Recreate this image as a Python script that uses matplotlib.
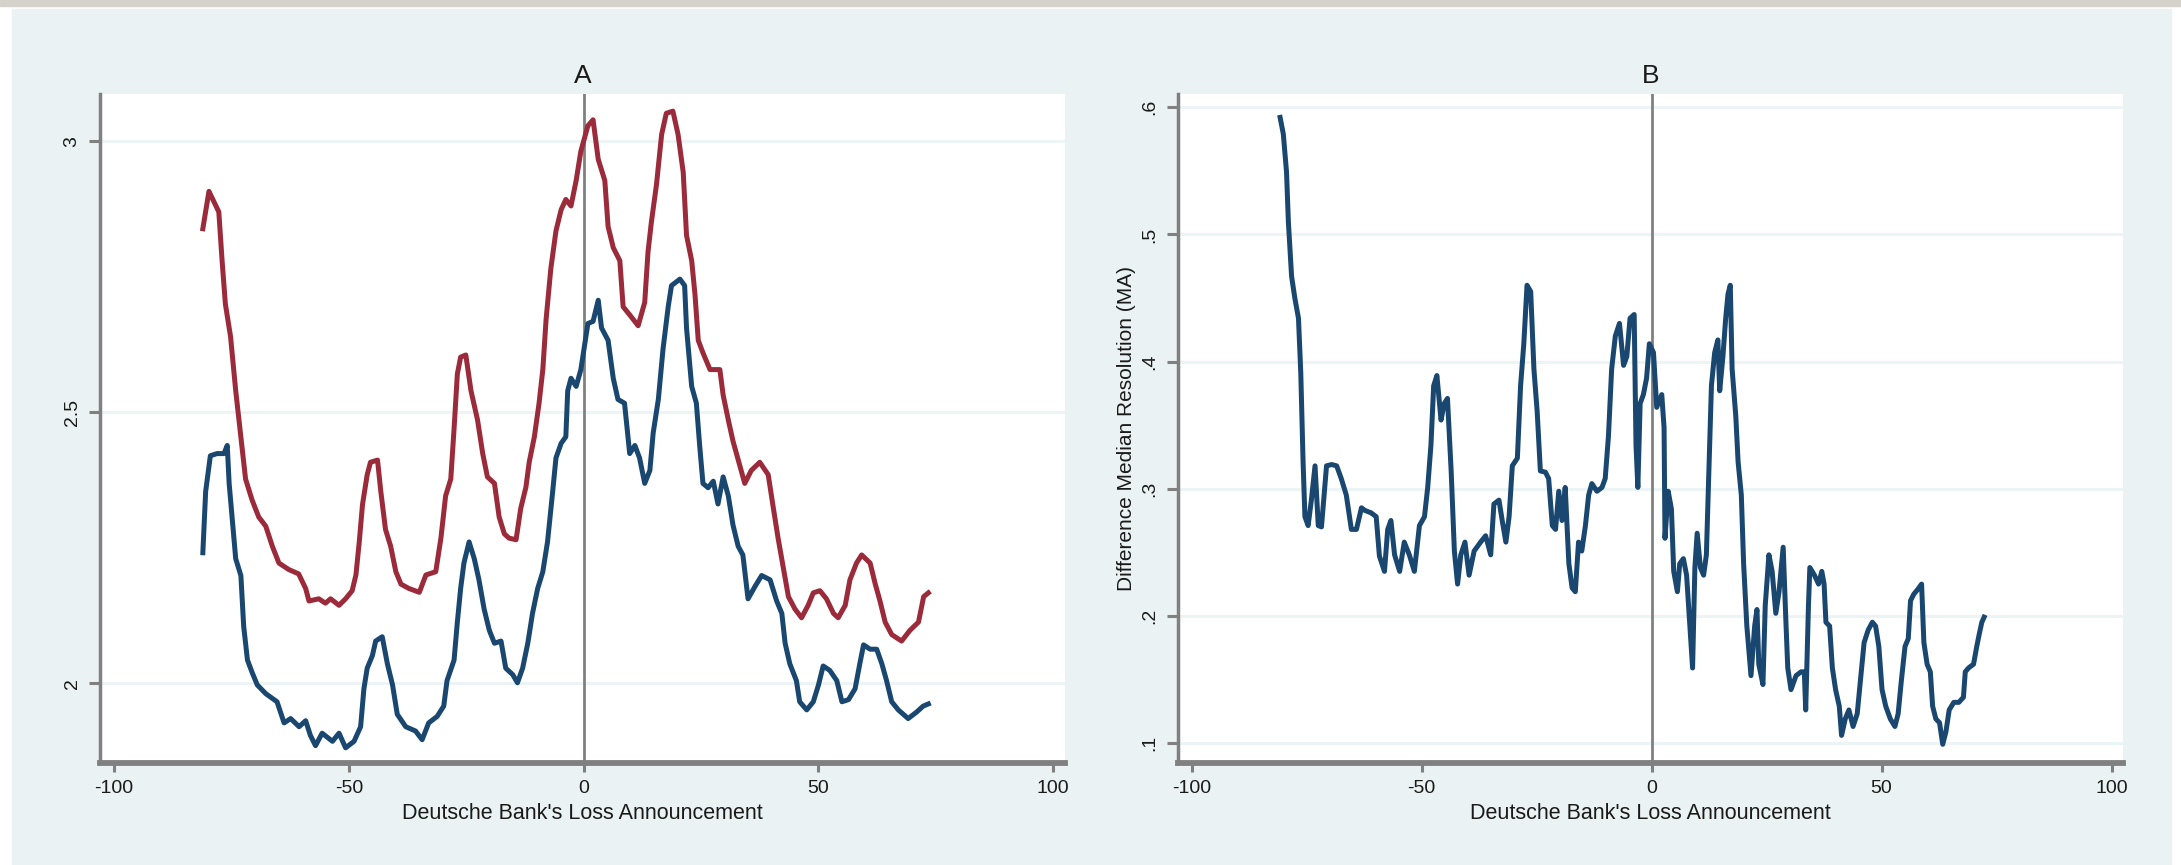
import matplotlib
matplotlib.use('Agg')
import matplotlib.pyplot as plt
from matplotlib.patches import Rectangle
import numpy as np

plt.rcParams['font.family'] = ['Liberation Sans', 'DejaVu Sans']
plt.rcParams['axes.unicode_minus'] = False

# panel A: two moving-average series around the announcement day
red_x = [-81.1, -79.8, -77.7, -77.0, -76.3, -75.2, -74.1, -73.0, -72.0, -70.6,
         -69.2, -67.7, -66.3, -64.9, -62.8, -60.7, -59.2, -58.5, -56.4, -55.0,
         -53.9, -52.1, -50.7, -49.3, -48.5, -47.8, -47.1, -46.1, -45.4, -43.9,
         -43.2, -42.2, -41.1, -40.0, -38.9, -37.2, -35.0, -33.6, -31.5, -30.4,
         -29.4, -28.3, -27.6, -26.9, -26.2, -25.1, -24.0, -22.6, -21.5, -20.5,
         -19.0, -18.0, -16.9, -15.9, -14.4, -13.4, -12.3, -11.6, -10.5, -9.5,
         -8.7, -8.0, -7.0, -5.9, -4.8, -3.8, -2.7, -1.6, -0.6, 0.9,
         2.0, 3.1, 4.5, 5.2, 6.3, 7.7, 8.4, 9.8, 11.6, 13.0,
         13.7, 14.4, 15.5, 16.6, 17.6, 19.0, 20.1, 21.2, 21.9, 23.0,
         23.7, 24.4, 25.4, 26.9, 29.0, 29.7, 30.8, 31.8, 33.3, 34.3,
         35.7, 37.5, 39.3, 40.4, 41.4, 42.5, 43.6, 45.0, 46.4, 47.8,
         48.9, 50.3, 51.7, 53.2, 54.2, 55.7, 56.7, 58.1, 59.2, 61.0,
         62.1, 63.1, 64.2, 65.6, 67.7, 69.5, 71.3, 72.4, 73.4]
red_y = [2.839, 2.908, 2.870, 2.780, 2.700, 2.640, 2.540, 2.455, 2.377, 2.338,
         2.307, 2.290, 2.253, 2.222, 2.210, 2.202, 2.175, 2.152, 2.156, 2.148,
         2.156, 2.144, 2.156, 2.171, 2.200, 2.260, 2.330, 2.385, 2.408, 2.412,
         2.354, 2.284, 2.253, 2.206, 2.183, 2.175, 2.168, 2.200, 2.206, 2.268,
         2.346, 2.377, 2.470, 2.571, 2.602, 2.606, 2.540, 2.486, 2.424, 2.381,
         2.369, 2.307, 2.276, 2.268, 2.265, 2.323, 2.362, 2.408, 2.455, 2.517,
         2.579, 2.672, 2.765, 2.835, 2.874, 2.893, 2.881, 2.928, 2.982, 3.029,
         3.040, 2.967, 2.928, 2.843, 2.804, 2.780, 2.695, 2.680, 2.660, 2.703,
         2.796, 2.850, 2.920, 3.013, 3.052, 3.056, 3.013, 2.943, 2.827, 2.780,
         2.718, 2.633, 2.610, 2.579, 2.579, 2.532, 2.486, 2.447, 2.400, 2.369,
         2.393, 2.408, 2.385, 2.323, 2.268, 2.214, 2.160, 2.137, 2.121, 2.144,
         2.167, 2.171, 2.156, 2.129, 2.121, 2.144, 2.191, 2.222, 2.237, 2.222,
         2.183, 2.152, 2.113, 2.090, 2.078, 2.098, 2.113, 2.160, 2.167]

blue_x = [-81.1, -80.5, -79.5, -78.1, -76.6, -75.9, -75.5, -74.8, -74.1, -73.0,
          -72.4, -71.6, -70.6, -69.5, -67.7, -65.3, -63.8, -62.4, -60.6, -59.2,
          -58.2, -57.1, -55.7, -53.5, -52.1, -50.7, -48.9, -47.5, -46.8, -46.1,
          -45.0, -44.3, -42.9, -41.8, -40.7, -39.7, -37.9, -35.8, -34.4, -33.0,
          -31.2, -29.8, -29.1, -27.6, -26.9, -26.2, -25.5, -24.4, -23.3, -22.3,
          -21.2, -20.1, -19.0, -17.6, -16.6, -15.1, -14.1, -13.0, -11.9, -10.9,
          -9.8, -8.7, -7.7, -6.6, -5.9, -4.8, -3.8, -3.4, -2.7, -1.6,
          -0.6, 0.9, 2.0, 3.1, 3.8, 5.2, 6.3, 7.3, 8.7, 9.8,
          10.9, 11.9, 13.0, 14.1, 14.8, 15.9, 16.9, 18.0, 18.7, 20.5,
          21.5, 21.9, 23.0, 24.0, 24.7, 25.4, 26.5, 27.6, 28.6, 29.7,
          30.8, 31.8, 32.9, 33.9, 35.0, 36.5, 37.9, 39.7, 41.1, 42.2,
          42.9, 43.9, 45.3, 46.0, 47.5, 48.9, 50.0, 51.0, 52.4, 53.9,
          55.0, 56.4, 57.8, 58.8, 59.6, 61.0, 62.4, 63.5, 64.5, 65.6,
          67.0, 69.1, 70.9, 72.3, 73.4]
blue_y = [2.241, 2.354, 2.420, 2.424, 2.424, 2.439, 2.369, 2.299, 2.230, 2.199,
          2.105, 2.043, 2.020, 1.997, 1.981, 1.966, 1.927, 1.935, 1.920, 1.931,
          1.904, 1.885, 1.908, 1.893, 1.908, 1.881, 1.893, 1.920, 1.990, 2.028,
          2.051, 2.078, 2.086, 2.036, 1.997, 1.943, 1.920, 1.912, 1.896, 1.927,
          1.939, 1.958, 2.005, 2.043, 2.113, 2.175, 2.222, 2.261, 2.230, 2.191,
          2.137, 2.098, 2.074, 2.078, 2.028, 2.016, 2.001, 2.028, 2.074, 2.129,
          2.175, 2.206, 2.261, 2.354, 2.416, 2.443, 2.455, 2.540, 2.563, 2.548,
          2.579, 2.664, 2.668, 2.707, 2.656, 2.633, 2.563, 2.524, 2.517, 2.424,
          2.439, 2.416, 2.369, 2.393, 2.462, 2.524, 2.617, 2.695, 2.734, 2.746,
          2.734, 2.656, 2.548, 2.517, 2.439, 2.369, 2.361, 2.373, 2.331, 2.381,
          2.346, 2.292, 2.253, 2.237, 2.156, 2.179, 2.199, 2.191, 2.152, 2.129,
          2.074, 2.036, 2.005, 1.966, 1.951, 1.966, 1.997, 2.032, 2.024, 2.005,
          1.966, 1.970, 1.990, 2.036, 2.071, 2.063, 2.063, 2.036, 2.005, 1.966,
          1.951, 1.935, 1.947, 1.958, 1.962]

# panel B: difference in median resolution (moving average)
diff_x = [-80.8, -80.1, -79.4, -79.0, -78.3, -77.6, -76.8, -76.3, -75.8, -75.4,
          -74.7, -74.0, -73.2, -72.5, -71.8, -70.7, -69.6, -68.5, -67.5, -66.4,
          -65.3, -64.2, -63.1, -62.4, -61.0, -59.9, -59.2, -58.1, -57.4, -56.7,
          -55.9, -54.8, -53.8, -52.7, -51.6, -50.5, -49.4, -48.7, -48.0, -47.4,
          -46.7, -45.8, -45.1, -44.4, -43.6, -42.9, -42.2, -41.5, -40.6, -39.7,
          -38.6, -37.2, -36.1, -35.0, -34.3, -33.2, -32.5, -31.7, -31.0, -30.3,
          -29.2, -28.5, -27.8, -27.1, -26.3, -25.6, -24.9, -24.2, -23.1, -22.4,
          -21.6, -20.9, -20.2, -19.5, -18.8, -18.0, -17.3, -16.6, -15.9, -15.2,
          -14.4, -13.7, -13.0, -11.9, -10.8, -10.1, -9.4, -8.7, -7.9, -7.0,
          -6.1, -5.4, -4.7, -3.8, -3.4, -3.0, -2.5, -1.8, -1.1, -0.5,
          0.4, 1.1, 2.2, 2.7, 2.9, 3.6, 4.3, 4.8, 5.6, 6.1,
          6.9, 7.6, 8.3, 8.9, 9.4, 9.9, 10.6, 11.3, 11.9, 12.5,
          13.0, 13.7, 14.4, 14.8, 15.5, 16.1, 16.6, 17.1, 17.5, 18.3,
          18.8, 19.5, 20.0, 20.7, 21.6, 22.4, 22.9, 23.3, 24.2, 24.7,
          25.5, 26.2, 27.0, 27.7, 28.6, 29.2, 29.6, 30.3, 31.4, 32.5,
          33.2, 33.5, 34.1, 34.4, 35.4, 36.3, 37.0, 37.5, 37.9, 38.7,
          39.3, 40.0, 40.8, 41.3, 42.1, 42.9, 43.8, 44.7, 45.5, 46.2,
          47.1, 48.0, 48.7, 49.4, 50.1, 50.9, 51.9, 52.9, 53.6, 54.3,
          55.1, 55.8, 56.3, 57.0, 57.9, 58.7, 59.2, 59.9, 60.6, 61.1,
          61.8, 62.6, 63.3, 64.0, 64.7, 65.7, 66.8, 67.8, 68.2, 68.9,
          70.0, 70.7, 71.2, 71.8, 72.3]
diff_y = [0.592, 0.579, 0.549, 0.510, 0.467, 0.450, 0.434, 0.391, 0.321, 0.278,
          0.271, 0.291, 0.318, 0.271, 0.270, 0.318, 0.319, 0.318, 0.308, 0.295,
          0.268, 0.268, 0.285, 0.283, 0.281, 0.278, 0.247, 0.235, 0.268, 0.275,
          0.248, 0.235, 0.258, 0.248, 0.235, 0.271, 0.278, 0.301, 0.334, 0.381,
          0.389, 0.354, 0.367, 0.371, 0.314, 0.251, 0.225, 0.248, 0.258, 0.232,
          0.251, 0.258, 0.263, 0.248, 0.288, 0.291, 0.275, 0.258, 0.278, 0.318,
          0.324, 0.381, 0.414, 0.460, 0.455, 0.394, 0.361, 0.314, 0.313, 0.308,
          0.271, 0.268, 0.298, 0.275, 0.301, 0.241, 0.222, 0.219, 0.258, 0.251,
          0.271, 0.295, 0.304, 0.298, 0.301, 0.308, 0.341, 0.394, 0.420, 0.430,
          0.397, 0.404, 0.434, 0.437, 0.334, 0.301, 0.367, 0.374, 0.387, 0.414,
          0.407, 0.364, 0.374, 0.348, 0.261, 0.298, 0.284, 0.235, 0.219, 0.241,
          0.245, 0.232, 0.192, 0.159, 0.238, 0.265, 0.238, 0.232, 0.248, 0.321,
          0.381, 0.407, 0.417, 0.377, 0.404, 0.434, 0.453, 0.460, 0.394, 0.357,
          0.321, 0.295, 0.241, 0.192, 0.153, 0.192, 0.205, 0.162, 0.146, 0.208,
          0.248, 0.235, 0.202, 0.219, 0.254, 0.195, 0.159, 0.142, 0.153, 0.156,
          0.156, 0.126, 0.208, 0.238, 0.232, 0.225, 0.235, 0.225, 0.195, 0.192,
          0.159, 0.142, 0.129, 0.106, 0.119, 0.126, 0.113, 0.123, 0.153, 0.179,
          0.189, 0.195, 0.192, 0.176, 0.142, 0.129, 0.119, 0.113, 0.123, 0.149,
          0.176, 0.182, 0.212, 0.217, 0.221, 0.225, 0.179, 0.162, 0.156, 0.129,
          0.119, 0.116, 0.099, 0.109, 0.126, 0.132, 0.132, 0.136, 0.156, 0.159,
          0.162, 0.176, 0.185, 0.195, 0.199]

x_ticks = [-100, -50, 0, 50, 100]
a_ticks = [2, 2.5, 3]
a_labels = ['2', '2.5', '3']
b_ticks = [0.1, 0.2, 0.3, 0.4, 0.5, 0.6]
b_labels = ['.1', '.2', '.3', '.4', '.5', '.6']

NAVY = '#1a476f'
MAROON = '#9b2a3a'
BG = '#eaf2f3'
GREY = '#808080'
INK = '#1a1a1a'


def style_axes(ax, yticks, ylabels, ylims, title):
    ax.set_facecolor('white')
    ax.set_xlim(-103, 102.5)
    ax.set_ylim(ylims)
    ax.set_xticks(x_ticks)
    ax.set_yticks(yticks)
    ax.set_yticklabels(ylabels)
    for s in ('top', 'right'):
        ax.spines[s].set_visible(False)
    ax.spines['left'].set_color(GREY)
    ax.spines['left'].set_linewidth(2.5)
    ax.spines['bottom'].set_color(GREY)
    ax.spines['bottom'].set_linewidth(4.2)
    ax.tick_params(axis='both', colors=GREY, width=2.2, labelcolor=INK,
                   labelsize=14)
    ax.tick_params(axis='y', length=8, pad=6)
    ax.tick_params(axis='x', length=6.5, pad=6)
    for lab in ax.get_yticklabels():
        lab.set_rotation(90)
        lab.set_va('center')
    ax.yaxis.grid(True, color='#edf4f5', linewidth=2.2)
    ax.set_axisbelow(True)
    ax.axvline(0, color=GREY, linewidth=2.0, zorder=1.5)
    ax.set_xlabel("Deutsche Bank's Loss Announcement", fontsize=15.5,
                  color=INK)
    ax.xaxis.set_label_coords(0.5, -0.075)
    ax.xaxis.label.set_va('center')
    ax.set_title(title, fontsize=19, color=INK, pad=8)


def main():
    fig = plt.figure(figsize=(21.81, 8.65), dpi=100)
    fig.patch.set_facecolor('white')
    # window strip and the graph region background
    fig.patches.append(Rectangle((0, 1 - 6 / 865), 1, 6 / 865,
                                 transform=fig.transFigure, color='#d5d1cb',
                                 zorder=-2))
    fig.patches.append(Rectangle((12 / 2181, 0), (2171 - 12) / 2181, 856 / 865,
                                 transform=fig.transFigure, color=BG,
                                 zorder=-2))

    ax_a = fig.add_axes([100 / 2181, 102 / 865, 965 / 2181, 669 / 865])
    ax_b = fig.add_axes([1178 / 2181, 102 / 865, 945 / 2181, 669 / 865])

    ax_a.plot(red_x, red_y, color=MAROON, linewidth=3.6, zorder=3)
    ax_a.plot(blue_x, blue_y, color=NAVY, linewidth=3.6, zorder=3)
    style_axes(ax_a, a_ticks, a_labels, (1.853, 3.0876), 'A')

    ax_b.plot(diff_x, diff_y, color=NAVY, linewidth=3.6, zorder=3)
    style_axes(ax_b, b_ticks, b_labels, (0.0843, 0.6104), 'B')
    ax_b.set_ylabel('Difference Median Resolution (MA)', fontsize=15,
                    color=INK)
    ax_b.yaxis.set_label_coords(-0.054, 0.5)
    ax_b.yaxis.label.set_va('center')

    fig.savefig('out.png', dpi=100)
    plt.close(fig)


if __name__ == "__main__":
    main()
